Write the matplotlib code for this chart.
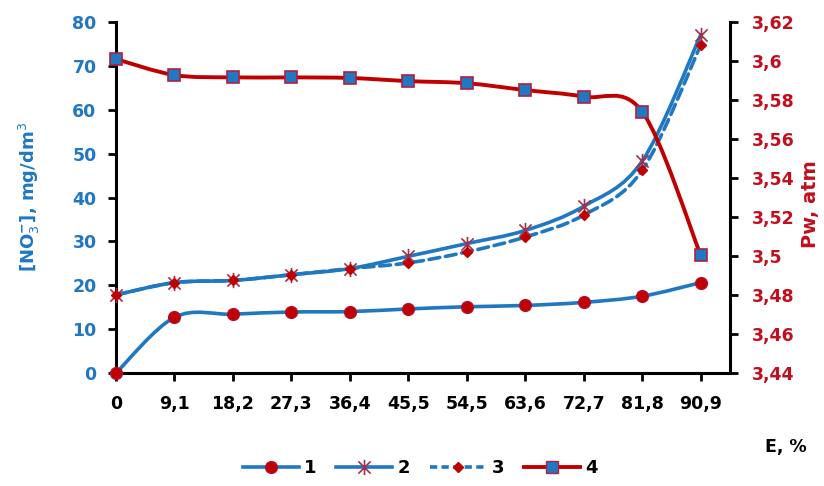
import matplotlib
matplotlib.use('Agg')
import matplotlib.pyplot as plt
import numpy as np
from matplotlib.path import Path
from matplotlib.patches import PathPatch
from matplotlib.lines import Line2D

# data
e_labels = ['0', '9,1', '18,2', '27,3', '36,4', '45,5', '54,5', '63,6', '72,7', '81,8', '90,9']
s1 = [0.0, 12.7, 13.4, 13.9, 14.0, 14.6, 15.1, 15.4, 16.1, 17.5, 20.6]
s2 = [17.8, 20.6, 21.1, 22.4, 23.8, 26.6, 29.5, 32.5, 38.0, 48.3, 77.0]
s3 = [17.8, 20.6, 21.1, 22.4, 23.8, 25.1, 27.6, 31.0, 36.0, 46.2, 74.7]
pw = [3.601, 3.5928, 3.5916, 3.5916, 3.5913, 3.5897, 3.5886, 3.5851, 3.5817, 3.574, 3.5005]

BLUE = '#1f78c1'
RED = '#c00000'
DARKRED = '#a0304a'


# smooth line like excel (catmull-rom as bezier segments)
def smooth_path(x, y):
    pts = np.column_stack([x, y]).astype(float)
    n = len(pts)
    verts = [pts[0]]
    codes = [Path.MOVETO]
    for i in range(n - 1):
        p0 = pts[i - 1] if i > 0 else pts[i]
        p1 = pts[i]
        p2 = pts[i + 1]
        p3 = pts[i + 2] if i + 2 < n else pts[i + 1]
        c1 = p1 + (p2 - p0) / 6.0
        c2 = p2 - (p3 - p1) / 6.0
        verts += [c1, c2, p2]
        codes += [Path.CURVE4] * 3
    return Path(verts, codes)


def draw_curve(ax, x, y, color, ls='-', lw=2.6, z=2):
    patch = PathPatch(smooth_path(x, y), facecolor='none', edgecolor=color,
                      lw=lw, linestyle=ls, zorder=z, capstyle='round')
    ax.add_patch(patch)


# star marker like excel: x plus vertical bar
star = Path([(-1, -1), (1, 1), (-1, 1), (1, -1), (0, -1.25), (0, 1.25)],
            [Path.MOVETO, Path.LINETO, Path.MOVETO, Path.LINETO, Path.MOVETO, Path.LINETO])

x = np.arange(len(e_labels))

fig = plt.figure(figsize=(8.24, 4.86), dpi=100)
ax = fig.add_axes([0.1408, 0.2325, 0.745, 0.7222])
ax2 = ax.twinx()

draw_curve(ax, x, s1, BLUE)
ax.plot(x, s1, ls='none', marker='o', ms=8.5, mfc=RED, mec='#b01030', mew=1, zorder=4, clip_on=False)
draw_curve(ax, x, s2, BLUE)
ax.plot(x, s2, ls='none', marker=star, ms=11, mfc='none', mec=DARKRED, mew=1.2, zorder=4, clip_on=False)
draw_curve(ax, x, s3, BLUE, ls=(0, (3, 1.6)))
ax.plot(x, s3, ls='none', marker='D', ms=5.5, mfc=RED, mec=RED, zorder=4, clip_on=False)

draw_curve(ax2, x, pw, RED, lw=2.8)
ax2.plot(x, pw, ls='none', marker='s', ms=9, mfc=BLUE, mec='#b02040', mew=1.2, zorder=4, clip_on=False)

ax.set_xlim(0, 10.5)
ax.set_ylim(0, 80)
ax2.set_ylim(3.44, 3.62)

ax.set_xticks(x)
ax.set_xticklabels(e_labels)
ax.set_yticks(np.arange(0, 81, 10))
ax2_ticks = np.arange(3.44, 3.6201, 0.02)
ax2.set_yticks(ax2_ticks)
ax2.set_yticklabels([('%g' % round(t, 2)).replace('.', ',') for t in ax2_ticks])

for a in (ax, ax2):
    a.spines['top'].set_visible(False)
    for s in a.spines.values():
        s.set_linewidth(2.2)
ax.spines['right'].set_visible(False)
ax2.spines['left'].set_visible(False)
ax2.spines['bottom'].set_visible(False)

ax.tick_params(axis='x', length=6, width=2, pad=10, labelsize=12.5)
ax.tick_params(axis='y', length=6, width=2, pad=8, labelsize=12.5, labelcolor=BLUE)
ax2.tick_params(axis='y', length=6, width=2, pad=10, labelsize=12.5, labelcolor='#c0101f')
for lab in ax.get_xticklabels() + ax.get_yticklabels() + ax2.get_yticklabels():
    lab.set_fontweight('bold')

fig.text(0.036, 0.595, r'[NO$_3^{\mathbf{-}}$], mg/dm$^3$', rotation=90, color=BLUE,
         fontsize=13, fontweight='bold', ha='center', va='center')
fig.text(0.984, 0.58, 'Pw, atm', rotation=90, color='#c0101f',
         fontsize=14, fontweight='bold', ha='center', va='center')
fig.text(0.928, 0.08, 'E, %', fontsize=12.5, fontweight='bold', ha='left', va='center')

handles = [
    Line2D([], [], color=BLUE, lw=2.6, marker='o', ms=8.5, mfc=RED, mec='#b01030'),
    Line2D([], [], color=BLUE, lw=2.6, marker=star, ms=11, mfc='none', mec=DARKRED, mew=1.2),
    Line2D([], [], color=BLUE, lw=2.6, ls=(0, (2, 1.2)), marker='D', ms=5.5, mfc=RED, mec=RED),
    Line2D([], [], color=RED, lw=2.8, marker='s', ms=9, mfc=BLUE, mec='#b02040'),
]
leg = fig.legend(handles, ['1', '2', '3', '4'], loc='center', bbox_to_anchor=(0.51, 0.037),
                 ncol=4, frameon=False, handlelength=3.1, columnspacing=1.1, handletextpad=0.3,
                 prop={'weight': 'bold', 'size': 13})

fig.savefig('out.png', dpi=100)
